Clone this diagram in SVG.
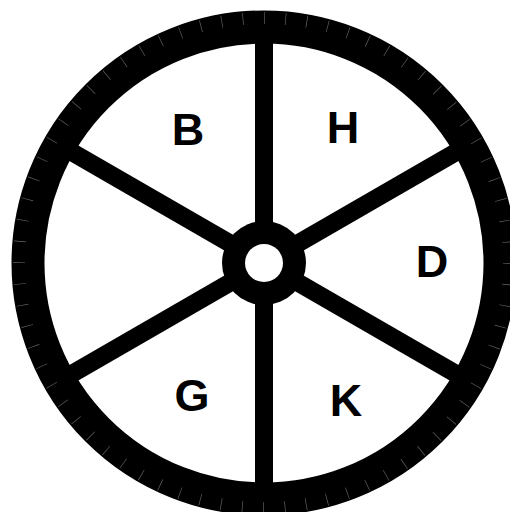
<svg xmlns="http://www.w3.org/2000/svg" width="510" height="512" viewBox="0 0 510 512">
<style>
.lbl{font-family:"Liberation Sans",Arial,sans-serif;font-weight:bold;font-size:45px;fill:#000;text-anchor:middle}
.spoke{stroke:#000;stroke-width:18;stroke-linecap:butt}
</style>
<rect width="510" height="512" fill="#fff"/>
<g id="rim">
<circle cx="264" cy="263" r="236" fill="none" stroke="#000" stroke-width="33"/>
<circle cx="264" cy="263" r="245" fill="none" stroke="#666" stroke-width="12" pathLength="72" stroke-dasharray="0.03 0.97"/>
</g>
<g id="spokes">
<line class="spoke" x1="264" y1="263" x2="264" y2="35"/>
<line class="spoke" x1="264" y1="263" x2="264" y2="491"/>
<line class="spoke" x1="264" y1="263" x2="461.5" y2="149"/>
<line class="spoke" x1="264" y1="263" x2="66.5" y2="149"/>
<line class="spoke" x1="264" y1="263" x2="461.5" y2="377"/>
<line class="spoke" x1="264" y1="263" x2="66.5" y2="377"/>
</g>
<g id="hub">
<circle cx="264" cy="263" r="42" fill="#000"/>
<circle cx="264" cy="263" r="19" fill="#fff"/>
</g>
<g id="B"><text class="lbl" x="188" y="145">B</text></g>
<g id="H"><text class="lbl" x="343" y="143">H</text></g>
<g id="D"><text class="lbl" x="432" y="277">D</text></g>
<g id="G"><text class="lbl" x="192" y="411">G</text></g>
<g id="K"><text class="lbl" x="346" y="416">K</text></g>
</svg>
